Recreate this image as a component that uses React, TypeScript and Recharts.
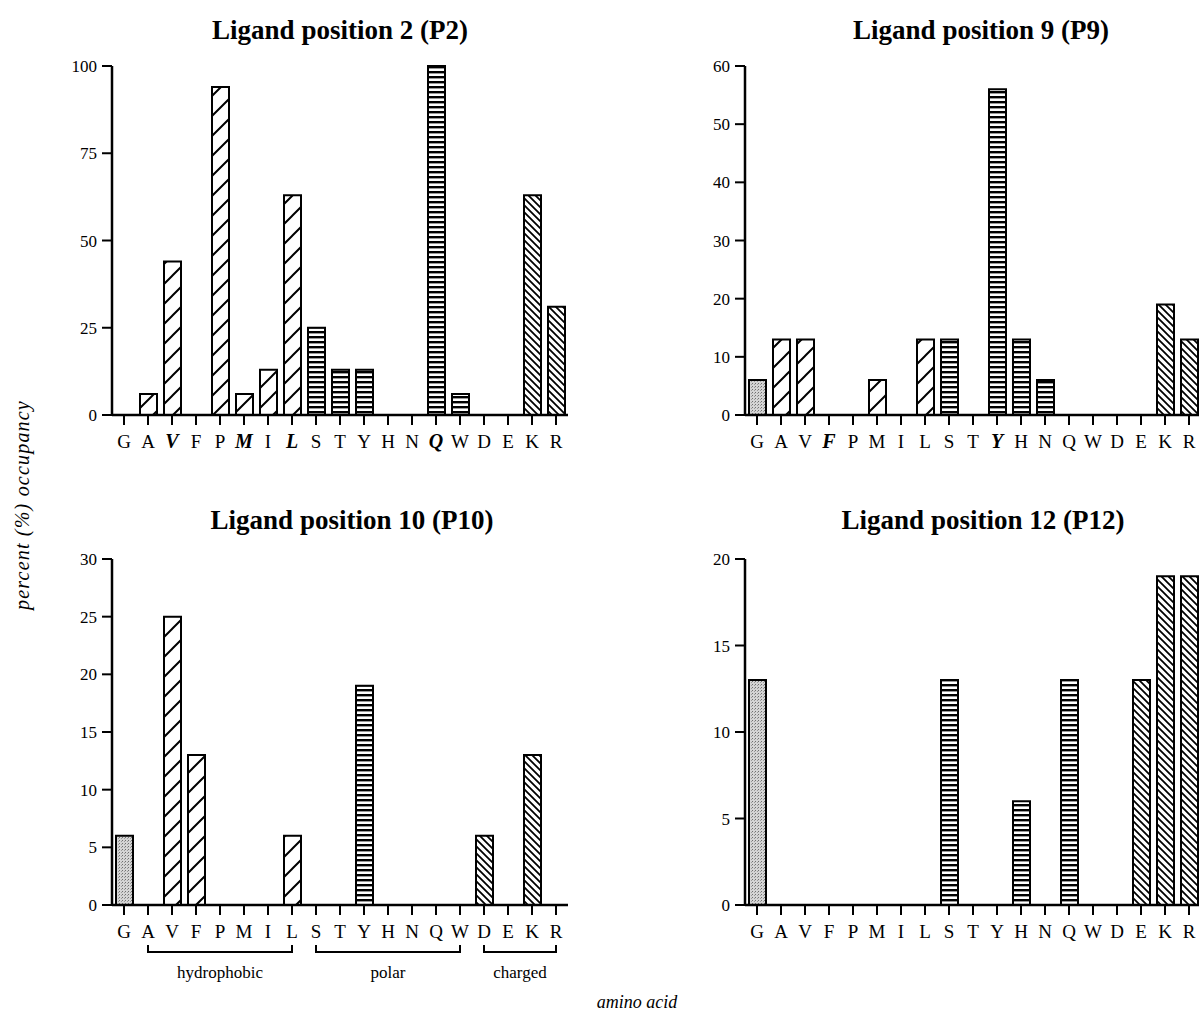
import { BarChart, Bar, XAxis, YAxis, Cell } from "recharts";

// amino acids in the order they sit on every x axis
const AMINO = ["G", "A", "V", "F", "P", "M", "I", "L", "S", "T", "Y", "H", "N", "Q", "W", "D", "E", "K", "R"];
const HYDROPHOBIC = ["A", "V", "F", "P", "M", "I", "L"];
const POLAR = ["S", "T", "Y", "H", "N", "Q", "W"];
const CHARGED = ["D", "E", "K", "R"];

// percent occupancy per amino acid
const P2_VALUES = [0, 6, 44, 0, 94, 6, 13, 63, 25, 13, 13, 0, 0, 100, 6, 0, 0, 63, 31];
const P9_VALUES = [6, 13, 13, 0, 0, 6, 0, 13, 13, 0, 56, 13, 6, 0, 0, 0, 0, 19, 13];
const P10_VALUES = [6, 0, 25, 13, 0, 0, 0, 6, 0, 0, 19, 0, 0, 0, 0, 6, 0, 13, 0];
const P12_VALUES = [13, 0, 0, 0, 0, 0, 0, 0, 13, 0, 0, 6, 0, 13, 0, 0, 13, 19, 19];

const P2_TICKS = [0, 25, 50, 75, 100];
const P9_TICKS = [0, 10, 20, 30, 40, 50, 60];
const P10_TICKS = [0, 5, 10, 15, 20, 25, 30];
const P12_TICKS = [0, 5, 10, 15, 20];

// residues printed bold italic under each panel
const P2_BOLD = ["V", "M", "L", "Q"];
const P9_BOLD = ["F", "Y"];

const GROUPS = [
  { name: "hydrophobic", members: HYDROPHOBIC },
  { name: "polar", members: POLAR },
  { name: "charged", members: CHARGED },
];

const SERIF = "'Liberation Serif', 'Times New Roman', serif";
const PLOT_W = 456;
const BAND = PLOT_W / AMINO.length;
const Y_W = 80;

function kindOf(aa: string) {
  if (HYDROPHOBIC.includes(aa)) return "hyd";
  if (POLAR.includes(aa)) return "pol";
  if (CHARGED.includes(aa)) return "chg";
  return "gly";
}

function AminoTick(props: any) {
  const { x, y, payload, bold, groups } = props;
  const aa = payload.value as string;
  const strong = bold.includes(aa);
  const group = groups ? GROUPS.find((g) => g.members[0] === aa) : null;
  const span = group ? (group.members.length - 1) * BAND : 0;
  return (
    <g>
      <text
        x={x}
        y={y + 19}
        textAnchor="middle"
        fontFamily={SERIF}
        fontSize={strong ? 20 : 19}
        fontWeight={strong ? 700 : 400}
        fontStyle={strong ? "italic" : "normal"}
        fill="#000"
      >
        {aa}
      </text>
      {group && (
        <g stroke="#000" strokeWidth={2} fill="none">
          <path d={`M${x},${y + 26} L${x},${y + 33} L${x + span},${y + 33} L${x + span},${y + 26}`} />
          <text
            x={x + span / 2}
            y={y + 59}
            textAnchor="middle"
            fontFamily={SERIF}
            fontSize={17}
            stroke="none"
            fill="#000"
          >
            {group.name}
          </text>
        </g>
      )}
    </g>
  );
}

function Panel({
  id, title, values, ticks, bold, groups, plotLeft, plotTop, plotH, titleX, titleY,
}: {
  id: string; title: string; values: number[]; ticks: number[]; bold: string[]; groups?: boolean;
  plotLeft: number; plotTop: number; plotH: number; titleX: number; titleY: number;
}) {
  const data = AMINO.map((aa, i) => ({ aa, value: values[i] }));
  const max = ticks[ticks.length - 1];
  return (
    <>
      <div
        style={{
          position: "absolute", left: titleX - 250, top: titleY - 17, width: 500, lineHeight: "34px",
          textAlign: "center", fontFamily: SERIF, fontWeight: 700, fontSize: 27,
        }}
      >
        {title}
      </div>
      <div style={{ position: "absolute", left: plotLeft - Y_W, top: plotTop - 10 }}>
        <BarChart
          width={Y_W + PLOT_W + 20}
          height={10 + plotH + 90}
          data={data}
          margin={{ top: 10, right: 20, left: 0, bottom: 0 }}
          barCategoryGap={0}
        >
          <defs>
            <pattern id={`${id}-gly`} patternUnits="userSpaceOnUse" width={3} height={3}>
              <rect width={3} height={3} fill="#d4d4d4" />
              <rect x={0} y={0} width={1} height={1} fill="#707070" />
              <rect x={2} y={1} width={1} height={1} fill="#9a9a9a" />
            </pattern>
            <pattern id={`${id}-hyd`} patternUnits="userSpaceOnUse" width={20} height={20}>
              <rect width={20} height={20} fill="#fff" />
              <path d="M0,20 L20,0 M-2,2 L2,-2 M18,22 L22,18" stroke="#000" strokeWidth={2} />
            </pattern>
            <pattern id={`${id}-pol`} patternUnits="userSpaceOnUse" width={5} height={5}>
              <rect width={5} height={5} fill="#fff" />
              <rect x={0} y={0} width={5} height={2.4} fill="#000" />
            </pattern>
            <pattern id={`${id}-chg`} patternUnits="userSpaceOnUse" width={7} height={7}>
              <rect width={7} height={7} fill="#fff" />
              <path d="M0,0 L7,7 M-2,5 L2,9 M5,-2 L9,2" stroke="#000" strokeWidth={1.8} />
            </pattern>
          </defs>
          <XAxis
            dataKey="aa"
            height={90}
            interval={0}
            tickSize={10}
            tickMargin={4}
            axisLine={{ stroke: "#000", strokeWidth: 2.5 }}
            tickLine={{ stroke: "#000", strokeWidth: 2 }}
            tick={(p: any) => <AminoTick {...p} bold={bold} groups={groups} />}
          />
          <XAxis
            xAxisId="top"
            orientation="top"
            dataKey="aa"
            height={0}
            tick={false}
            tickLine={false}
            axisLine={{ stroke: "#000", strokeWidth: 2.5 }}
          />
          <YAxis
            width={Y_W}
            domain={[0, max]}
            ticks={ticks}
            interval={0}
            tickSize={10}
            tickMargin={5}
            axisLine={{ stroke: "#000", strokeWidth: 2.5 }}
            tickLine={{ stroke: "#000", strokeWidth: 2 }}
            tick={{ fill: "#000", fontFamily: SERIF, fontSize: 17 }}
          />
          <YAxis
            yAxisId="right"
            orientation="right"
            width={0}
            domain={[0, max]}
            tick={false}
            tickLine={false}
            axisLine={{ stroke: "#000", strokeWidth: 2.5 }}
          />
          <Bar dataKey="value" barSize={17} stroke="#000" strokeWidth={2} isAnimationActive={false}>
            {data.map((d) => (
              <Cell key={d.aa} fill={`url(#${id}-${kindOf(d.aa)})`} />
            ))}
          </Bar>
        </BarChart>
      </div>
    </>
  );
}

export default function App() {
  return (
    <div
      style={{
        position: "absolute", left: 0, top: 0, width: 1199, height: 1014, overflow: "hidden",
        background: "#fff", fontFamily: SERIF, color: "#000",
      }}
    >
      <Panel id="p2" title="Ligand position 2 (P2)" values={P2_VALUES} ticks={P2_TICKS} bold={P2_BOLD}
        plotLeft={112} plotTop={66} plotH={349} titleX={340} titleY={30} />
      <Panel id="p9" title="Ligand position 9 (P9)" values={P9_VALUES} ticks={P9_TICKS} bold={P9_BOLD}
        plotLeft={745} plotTop={66} plotH={349} titleX={981} titleY={30} />
      <Panel id="p10" title="Ligand position 10 (P10)" values={P10_VALUES} ticks={P10_TICKS} bold={[]} groups
        plotLeft={112} plotTop={559} plotH={346} titleX={352} titleY={520} />
      <Panel id="p12" title="Ligand position 12 (P12)" values={P12_VALUES} ticks={P12_TICKS} bold={[]}
        plotLeft={745} plotTop={559} plotH={346} titleX={983} titleY={520} />
      <div
        style={{
          position: "absolute", left: 22 - 150, top: 505 - 13, width: 300, lineHeight: "26px",
          textAlign: "center", fontStyle: "italic", fontSize: 20, letterSpacing: 1.2,
          transform: "rotate(-90deg)",
        }}
      >
        percent (%) occupancy
      </div>
      <div
        style={{
          position: "absolute", left: 637 - 100, top: 1002 - 12, width: 200, lineHeight: "24px",
          textAlign: "center", fontStyle: "italic", fontSize: 18,
        }}
      >
        amino acid
      </div>
    </div>
  );
}
